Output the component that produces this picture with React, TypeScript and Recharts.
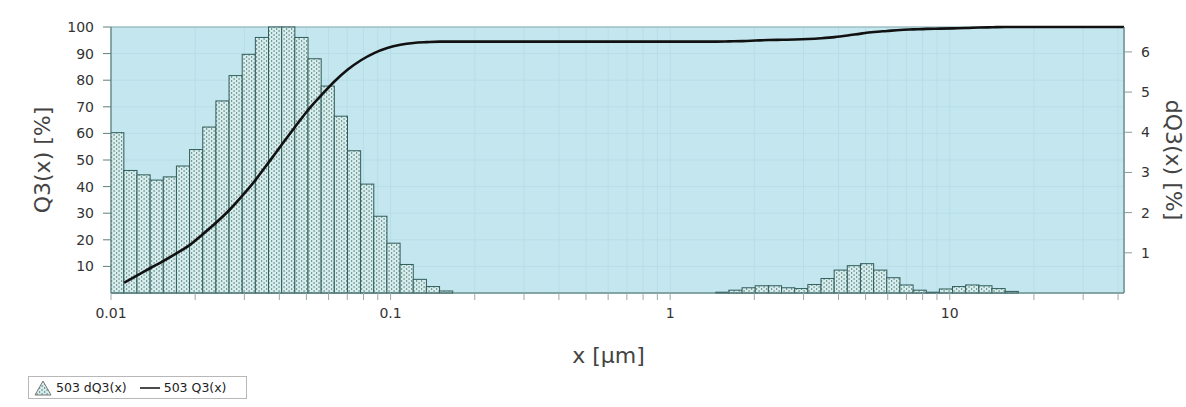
import React from 'react';
import { ComposedChart, Bar, Line, XAxis, YAxis, CartesianGrid, ReferenceArea, Label } from 'recharts';

// Histogram bins (x = bin centre in µm) and dQ3 values [%]
const binCenters = [
  0.010557, 0.011765, 0.013111, 0.014611, 0.016283, 0.018146, 0.020223, 0.022537, 0.025116, 0.02799,
  0.031193, 0.034762, 0.03874, 0.043173, 0.048113, 0.053619, 0.059754, 0.066592, 0.074212, 0.082703,
  0.092167, 0.10271, 0.11447, 0.12756, 0.14216, 0.15843,
  1.541, 1.717, 1.914, 2.133, 2.377, 2.649, 2.952, 3.29, 3.666, 4.086,
  4.553, 5.074, 5.655, 6.302, 7.023, 7.826, 8.722, 9.72, 10.83, 12.07,
  13.45, 14.99, 16.71,
];
const dQ3Values = [
  3.99, 3.05, 2.94, 2.81, 2.89, 3.16, 3.57, 4.13, 4.78, 5.41,
  5.94, 6.36, 6.62, 6.62, 6.36, 5.83, 5.15, 4.4, 3.54, 2.71,
  1.91, 1.24, 0.71, 0.34, 0.16, 0.05,
  0.02, 0.07, 0.13, 0.18, 0.18, 0.13, 0.11, 0.21, 0.36, 0.57,
  0.68, 0.73, 0.57, 0.38, 0.2, 0.07, 0.02, 0.1, 0.16, 0.2,
  0.18, 0.11, 0.04,
];

// Cumulative curve (x = upper bin edge in µm) and Q3 values [%]
const edgeSizes = [
  0.011144, 0.01242, 0.013841, 0.015425, 0.01719, 0.019157, 0.021349, 0.023792, 0.026515, 0.029549,
  0.03293, 0.036698, 0.040898, 0.045578, 0.050793, 0.056605, 0.063083, 0.070301, 0.078345, 0.08731,
  0.097301, 0.10843, 0.12084, 0.13467, 0.15008, 0.16725,
  1.4598, 1.6269, 1.813, 2.0205, 2.2517, 2.5093, 2.7964, 3.1163, 3.4729, 3.8703,
  4.3131, 4.8066, 5.3566, 5.9695, 6.6526, 7.4137, 8.262, 9.2074, 10.261, 11.435,
  12.744, 14.202, 15.827, 17.638, 42,
];
const q3Values = [
  3.9, 6.6, 9.4, 12.1, 15.0, 18.1, 22.2, 26.5, 31.2, 36.7,
  42.6, 49.2, 55.9, 62.5, 68.9, 74.4, 79.6, 84.0, 87.5, 90.2,
  92.1, 93.3, 94.0, 94.3, 94.5, 94.5,
  94.5, 94.6, 94.7, 94.9, 95.1, 95.2, 95.3, 95.5, 95.8, 96.2,
  96.8, 97.5, 98.1, 98.5, 98.9, 99.1, 99.3, 99.4, 99.5, 99.6,
  99.8, 99.9, 100, 100, 100,
];

const xTickLabels = [0.01, 0.1, 1, 10];
const xTicks = [
  0.01, 0.02, 0.03, 0.04, 0.05, 0.06, 0.07, 0.08, 0.09,
  0.1, 0.2, 0.3, 0.4, 0.5, 0.6, 0.7, 0.8, 0.9,
  1, 2, 3, 4, 5, 6, 7, 8, 9,
  10, 20, 30, 40,
];
const leftTicks = [10, 20, 30, 40, 50, 60, 70, 80, 90, 100];
const rightTicks = [1, 2, 3, 4, 5, 6];

const barRows = binCenters.map((x, i) => ({ x, dq: dQ3Values[i] }));
const lineRows = edgeSizes.map((x, i) => ({ x, q: q3Values[i] }));

const FONT = '"DejaVu Sans", Verdana, sans-serif';
const AXIS = '#5f7e7e';
const BIN_PX = 13.2;

const XTick = (props: any) => {
  const { x, y, payload } = props;
  if (!xTickLabels.includes(payload.value)) return null;
  return (
    <text x={x} y={y} dy="0.71em" textAnchor="middle" fontSize={14} fontFamily={FONT} fill="#333">
      {String(payload.value)}
    </text>
  );
};

// Histogram bar: centred on the library-computed bar centre, spanning one log bin.
const HistBar = (props: any) => {
  const { x, y, width, height, fill, stroke } = props;
  if (!height || height <= 0 || !isFinite(y)) return null;
  const cx = x + width / 2;
  return (
    <rect x={cx - BIN_PX / 2} y={y} width={BIN_PX} height={height} fill={fill} stroke={stroke} strokeWidth={1} />
  );
};

const LeftTitle = (p: any) => {
  const vb = p.viewBox || { x: 0, y: 27, width: 111, height: 266 };
  const cx = vb.x + 42;
  const cy = vb.y + vb.height / 2;
  return (
    <text x={cx} y={cy} transform={`rotate(-90, ${cx}, ${cy})`} textAnchor="middle" dominantBaseline="central"
      fontSize={22} fontFamily={FONT} fill="#444">Q3(x) [%]</text>
  );
};
const RightTitle = (p: any) => {
  const vb = p.viewBox || { x: 1124, y: 27, width: 62, height: 266 };
  const cx = vb.x + 49;
  const cy = vb.y + vb.height / 2;
  return (
    <text x={cx} y={cy} transform={`rotate(90, ${cx}, ${cy})`} textAnchor="middle" dominantBaseline="central"
      fontSize={22} fontFamily={FONT} fill="#444">dQ3(x) [%]</text>
  );
};
const BottomTitle = (p: any) => {
  const vb = p.viewBox || { x: 111, y: 293, width: 1013, height: 114 };
  const cx = vb.x + vb.width / 2 - 9;
  const cy = vb.y + 62;
  return (
    <text x={cx} y={cy} textAnchor="middle" dominantBaseline="central" fontSize={22} fontFamily={FONT} fill="#444">
      x [µm]
    </text>
  );
};

export default function App() {
  return (
    <div style={{ position: 'absolute', left: 0, top: 0, width: 1186, height: 407, background: '#fff' }}>
      <ComposedChart width={1186} height={407} data={barRows} margin={{ top: 27, right: 0, bottom: 0, left: 0 }}>
        <defs>
          <pattern id="dots" width="5" height="4" patternUnits="userSpaceOnUse">
            <rect width="5" height="4" fill="#d4eeee" />
            <rect x="1" y="0.5" width="1.2" height="1" fill="#2f4241" />
            <rect x="3.5" y="2.5" width="1.2" height="1" fill="#2f4241" />
          </pattern>
        </defs>
        <CartesianGrid yAxisId="q" fill="#c4e7ef" stroke="#b8dde6" strokeWidth={1} />
        <XAxis dataKey="x" type="number" scale="log" domain={[0.01, 42]} allowDataOverflow ticks={xTicks}
          interval={0} height={114} tick={<XTick />} tickSize={7} tickMargin={8}
          axisLine={{ stroke: AXIS }} tickLine={{ stroke: '#9aa' }}>
          <Label content={BottomTitle} />
        </XAxis>
        <YAxis yAxisId="q" orientation="left" width={111} domain={[0, 100]} ticks={leftTicks} interval={0}
          tickSize={8} tickMargin={9} axisLine={{ stroke: AXIS }} tickLine={{ stroke: AXIS }}
          tick={{ fontSize: 14, fill: '#333', fontFamily: FONT }}>
          <Label content={LeftTitle} />
        </YAxis>
        <YAxis yAxisId="dq" orientation="right" width={62} domain={[0, 6.62]} ticks={rightTicks} interval={0}
          tickSize={8} tickMargin={9} axisLine={{ stroke: AXIS }} tickLine={{ stroke: '#8a9a9a' }}
          tick={{ fontSize: 14, fill: '#333', fontFamily: FONT }}>
          <Label content={RightTitle} />
        </YAxis>
        <ReferenceArea yAxisId="q" x1={0.01} x2={42} y1={0} y2={100} fill="none" stroke="#8fb0b0" ifOverflow="extendDomain" />
        <Bar yAxisId="dq" dataKey="dq" fill="url(#dots)" stroke="#2f5d5a" strokeWidth={1} barSize={13}
          shape={<HistBar />} isAnimationActive={false} />
        <Line yAxisId="q" data={lineRows} dataKey="q" type="monotone" stroke="#111" strokeWidth={2.6} dot={false} isAnimationActive={false} />
      </ComposedChart>
      <div style={{
        position: 'absolute', left: 28, top: 376, width: 217, height: 21, border: '1px solid #b8b8b8',
        background: '#fff', display: 'flex', alignItems: 'center', fontFamily: FONT, fontSize: 12.5, color: '#222',
      }}>
        <svg width="20" height="18" style={{ marginLeft: 4 }}>
          <path d="M10 2 L18 16 L2 16 Z" fill="url(#dots)" stroke="#777" strokeWidth={1} />
        </svg>
        <span style={{ marginLeft: 3 }}>503 dQ3(x)</span>
        <svg width="22" height="10" style={{ marginLeft: 12 }}>
          <line x1="1" y1="5" x2="21" y2="5" stroke="#111" strokeWidth={1.5} />
        </svg>
        <span style={{ marginLeft: 3 }}>503 Q3(x)</span>
      </div>
    </div>
  );
}
